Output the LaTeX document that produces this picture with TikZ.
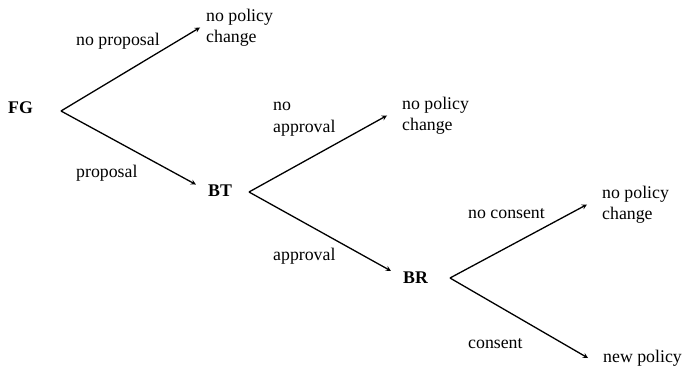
\documentclass[tikz,border=0pt]{standalone}
\usepackage{fontspec}
\setmainfont{Liberation Serif}
\usetikzlibrary{positioning, arrows}
\newcommand{\treesize}{\fontsize{17.8pt}{21pt}\selectfont}
\tikzset{
    >=stealth, % small filled arrow heads
    move/.style={->, line width=1.3pt}, % a branch of the game tree
    player/.style={font=\treesize\bfseries, inner xsep=12pt, inner ysep=2pt}, % the deciding actor
    outcome/.style={align=left, anchor=west, inner xsep=15pt, inner ysep=0pt}, % end of a branch
    choice/.style={align=left, anchor=base west, inner sep=0pt}, % text over a branch
}

\begin{document}
\begin{tikzpicture}[x=1pt, y=-1pt, font=\treesize]
    \useasboundingbox (0,0) rectangle (684,374);

    % actors
    \node[player] (FG) at (20.5,108) {FG};
    \node[player] (BT) at (220,191) {BT};
    \node[player] (BR) at (415.5,277.5) {BR};

    % where the branches split
    \coordinate (FG-split) at (61,111);
    \coordinate (BT-split) at (249,192);
    \coordinate (BR-split) at (450,278);

    % results
    \node[outcome, inner xsep=6pt] (FG-none) at (200,27.5) {no policy\\change};
    \node[outcome] (BT-none) at (387,115.5) {no policy\\change};
    \node[outcome] (BR-none) at (587,204.5) {no policy\\change};
    \node[outcome] (BR-new) at (588,358) {new policy};

    % branches
    \draw[move] (FG-split) -- (FG-none.west);
    \draw[move] (FG-split) -- (BT.165);
    \draw[move] (BT-split) -- (BT-none.west);
    \draw[move] (BT-split) -- (BR.165);
    \draw[move] (BR-split) -- (BR-none.west);
    \draw[move] (BR-split) -- (BR-new.west);

    % choices
    \node[choice] (noprop) at (76,46) {no proposal};
    \node[choice] (prop) at (76,177) {proposal};
    \node[choice] (noappr) at (273,132) {no\\approval};
    \node[choice] (appr) at (273,260) {approval};
    \node[choice] (nocons) at (468,218) {no consent};
    \node[choice] (cons) at (468,348) {consent};
\end{tikzpicture}
\end{document}
